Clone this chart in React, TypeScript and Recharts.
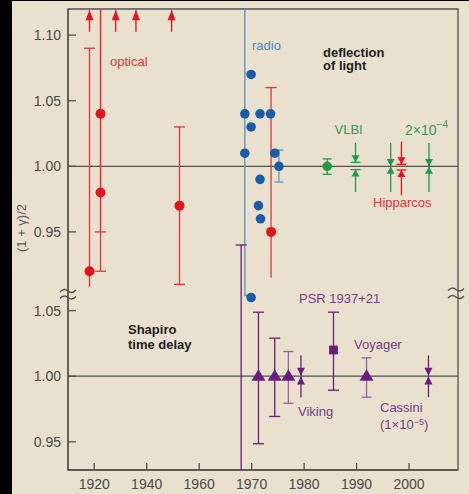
import React from 'react';
import { ComposedChart, Scatter, XAxis, YAxis, ReferenceLine, ReferenceArea } from 'recharts';

// The Shapiro (time delay) panel is drawn below the deflection panel,
// shifted down by this much on one shared y scale.
const OFFSET = 0.16;

// Time axis is compressed by half before 1960.
const toX = (year: number) => (year >= 1960 ? year : 1960 - (1960 - year) / 2);
const fromX = (x: number) => Math.round(x >= 1960 ? x : 1960 - (1960 - x) * 2);

const yearTicks = [1920, 1940, 1960, 1970, 1980, 1990, 2000];
const topTicks = [0.95, 1.0, 1.05, 1.1];
const bottomTicks = [0.95, 1.0, 1.05];

type Bar = { year: number; lo: number; hi: number; capLo?: boolean; capHi?: boolean };
type Point = { year: number; value: number };
type Arrow = { year: number; from: number; to: number };

// ---- deflection of light ----
const opticalPoints: Point[] = [
  { year: 1918.2, value: 0.92 },
  { year: 1922.4, value: 1.04 },
  { year: 1922.4, value: 0.98 },
  { year: 1952.5, value: 0.97 },
  { year: 1973.7, value: 0.95 },
];
const opticalBars: Bar[] = [
  { year: 1918.2, lo: 0.908, hi: 1.09, capHi: true },
  { year: 1922.4, lo: 0.95, hi: 1.2, capLo: true },
  { year: 1922.4, lo: 0.92, hi: 1.2, capLo: true },
  { year: 1952.5, lo: 0.91, hi: 1.03, capLo: true, capHi: true },
  { year: 1973.7, lo: 0.915, hi: 1.06, capHi: true },
];
const opticalArrows: Arrow[] = [
  { year: 1918.2, from: 1.1026, to: 1.119 },
  { year: 1928.2, from: 1.1026, to: 1.119 },
  { year: 1935.9, from: 1.1026, to: 1.119 },
  { year: 1949.5, from: 1.1026, to: 1.119 },
];

const radioPoints: Point[] = [
  { year: 1969.9, value: 1.07 },
  { year: 1968.7, value: 1.04 },
  { year: 1971.6, value: 1.04 },
  { year: 1973.6, value: 1.04 },
  { year: 1969.9, value: 1.03 },
  { year: 1968.7, value: 1.01 },
  { year: 1974.4, value: 1.01 },
  { year: 1975.2, value: 1.0 },
  { year: 1971.6, value: 0.99 },
  { year: 1971.3, value: 0.97 },
  { year: 1971.7, value: 0.96 },
  { year: 1969.9, value: 0.9 },
];
const radioTrace: Point[] = [
  { year: 1968.7, value: 1.2 },
  { year: 1968.7, value: 0.9015 },
  { year: 1969.6, value: 0.9015 },
];
const radioBars: Bar[] = [{ year: 1975.2, lo: 0.988, hi: 1.0124, capLo: true, capHi: true }];

const vlbiPoints: Point[] = [{ year: 1984.4, value: 1.0 }];
const vlbiBars: Bar[] = [{ year: 1984.4, lo: 0.9939, hi: 1.0056, capLo: true, capHi: true }];
const vlbiArrows: Arrow[] = [
  { year: 1989.8, from: 1.0178, to: 1.003 },
  { year: 1989.8, from: 0.9804, to: 0.9975 },
  { year: 1996.5, from: 1.0178, to: 1.0003 },
  { year: 1996.5, from: 0.9804, to: 0.9997 },
  { year: 2003.8, from: 1.0178, to: 1.0003 },
  { year: 2003.8, from: 0.9804, to: 0.9997 },
];
const vlbiCaps: Point[] = [
  { year: 1989.8, value: 1.003 },
  { year: 1989.8, value: 0.9975 },
];
const hipparcosArrows: Arrow[] = [
  { year: 1998.55, from: 1.0188, to: 1.0015 },
  { year: 1998.55, from: 0.978, to: 0.9972 },
];
const hipparcosCaps: Point[] = [
  { year: 1998.55, value: 1.0015 },
  { year: 1998.55, value: 0.9972 },
];

// ---- Shapiro time delay (values as read on the lower axis) ----
const shapiroTriangles: Point[] = [
  { year: 1971.3, value: 1.0 },
  { year: 1974.4, value: 1.0 },
  { year: 1977.0, value: 1.0 },
  { year: 1991.9, value: 1.0 },
];
const shapiroDarkBars: Bar[] = [
  { year: 1968.0, lo: 0.925, hi: 1.1, capHi: true },
  { year: 1971.3, lo: 0.9485, hi: 1.0488, capLo: true, capHi: true },
  { year: 1974.4, lo: 0.9693, hi: 1.029, capLo: true, capHi: true },
  { year: 1985.6, lo: 0.9893, hi: 1.0488, capLo: true, capHi: true },
];
const shapiroLightBars: Bar[] = [
  { year: 1977.0, lo: 0.9794, hi: 1.0188, capLo: true, capHi: true },
  { year: 1991.9, lo: 0.984, hi: 1.014, capLo: true, capHi: true },
];
const pulsarPoints: Point[] = [{ year: 1985.6, value: 1.02 }];
const shapiroArrows: Arrow[] = [
  { year: 1979.4, from: 1.0158, to: 1.0003 },
  { year: 1979.4, from: 0.9838, to: 0.9997 },
  { year: 2003.7, from: 1.0158, to: 1.0003 },
  { year: 2003.7, from: 0.984, to: 0.9997 },
];

const AXIS = '#505050';
const TICK_TEXT = '#4a4a4a';
const FONT = '"Liberation Sans", Arial, sans-serif';
const RED = '#e5131f';
const RED_BAR = '#e2343c';
const BLUE = '#1b5ca8';
const BLUE_LINE = '#6494c8';
const GREEN = '#1f9a4c';
const PURPLE = '#6b1c7c';
const PURPLE_LIGHT = '#9c5fa8';

const capShape = (w: number, color: string) => (p: any) =>
  p.payload && p.payload.cap ? (
    <line x1={p.cx - w / 2} x2={p.cx + w / 2} y1={p.cy} y2={p.cy} stroke={color} strokeWidth={1.3} />
  ) : (
    <g />
  );

const headShape = (w: number, h: number, color: string) => (p: any) => {
  const d = p.payload ? p.payload.head : 0;
  if (!d) return <g />;
  const { cx, cy } = p;
  const back = d > 0 ? cy + h : cy - h;
  return <polygon points={`${cx},${cy} ${cx - w / 2},${back} ${cx + w / 2},${back}`} fill={color} />;
};

const dotShape = (r: number, color: string) => (p: any) => <circle cx={p.cx} cy={p.cy} r={r} fill={color} />;
const triangleShape = (color: string) => (p: any) => (
  <polygon points={`${p.cx},${p.cy - 7} ${p.cx - 7},${p.cy + 4.5} ${p.cx + 7},${p.cy + 4.5}`} fill={color} />
);
const squareShape = (color: string) => (p: any) => (
  <rect x={p.cx - 4.4} y={p.cy - 4.4} width={8.8} height={8.8} fill={color} />
);

const barSeries = (bars: Bar[], color: string, capW: number, key: string, shift = 0) =>
  bars.map((b, i) => (
    <Scatter
      key={key + i}
      data={[
        { x: toX(b.year), y: b.lo - shift, cap: b.capLo },
        { x: toX(b.year), y: b.hi - shift, cap: b.capHi },
      ]}
      dataKey="y"
      line={{ stroke: color, strokeWidth: 1.3 }}
      shape={capShape(capW, color)}
      isAnimationActive={false}
    />
  ));

const arrowSeries = (arrows: Arrow[], color: string, w: number, h: number, key: string, shift = 0) =>
  arrows.map((a, i) => (
    <Scatter
      key={key + i}
      data={[
        { x: toX(a.year), y: a.from - shift, head: 0 },
        { x: toX(a.year), y: a.to - shift, head: a.to > a.from ? 1 : -1 },
      ]}
      dataKey="y"
      line={{ stroke: color, strokeWidth: 1.3 }}
      shape={headShape(w, h, color)}
      isAnimationActive={false}
    />
  ));

const pointData = (pts: Point[], shift = 0) => pts.map((p) => ({ x: toX(p.year), y: p.value - shift, cap: true }));

const XTick = (props: any) => {
  const { x, y, payload } = props;
  return (
    <g>
      <line x1={x} x2={x} y1={y} y2={y - 7} stroke={AXIS} strokeWidth={1.3} />
      <text x={x} y={y + 19} textAnchor="middle" fontSize={14} fill={TICK_TEXT} fontFamily={FONT}>
        {fromX(payload.value)}
      </text>
    </g>
  );
};

const YTick = (props: any) => {
  const { x, y, payload } = props;
  const v = payload.value < 0.92 ? payload.value + OFFSET : payload.value;
  return (
    <g>
      <line x1={x} x2={x + 8} y1={y} y2={y} stroke={AXIS} strokeWidth={1.3} />
      <text x={x - 7} y={y + 5} textAnchor="end" fontSize={14} fill={TICK_TEXT} fontFamily={FONT}>
        {v.toFixed(2)}
      </text>
    </g>
  );
};

const tilde = (x: number, y: number) =>
  `M${x - 8},${y + 1} Q${x - 4},${y - 3.5} ${x},${y} Q${x + 4},${y + 3.5} ${x + 8},${y - 1}`;

export default function App() {
  const yDomain = [0.7685, 1.1199];
  const xDomain = [1935, 2009.33];
  const yTicks = [...bottomTicks.map((v) => v - OFFSET), ...topTicks];
  const xTicks = yearTicks.map(toX);

  return (
    <div style={{ position: 'absolute', left: 0, top: 0, width: 469, height: 494, background: '#000', fontFamily: FONT }}>
      <div style={{ position: 'absolute', left: 12, top: 1, right: 0, bottom: 0, background: '#e9e1cd' }} />
      <div style={{ position: 'absolute', left: 0, top: 0 }}>
        <ComposedChart width={469} height={494} margin={{ top: 9, right: 11, bottom: 0, left: 12 }}>
          <XAxis
            type="number"
            dataKey="x"
            domain={xDomain}
            ticks={xTicks}
            interval={0}
            allowDataOverflow
            height={24}
            tickSize={0}
            tickMargin={0}
            tickLine={false}
            axisLine={{ stroke: AXIS, strokeWidth: 1.3 }}
            tick={XTick}
          />
          <YAxis
            type="number"
            dataKey="y"
            domain={yDomain}
            ticks={yTicks}
            interval={0}
            allowDataOverflow
            width={56}
            tickSize={0}
            tickMargin={0}
            tickLine={false}
            axisLine={{ stroke: AXIS, strokeWidth: 1.3 }}
            tick={YTick}
          />
          <ReferenceArea x1={xDomain[0]} x2={xDomain[1]} y1={yDomain[0]} y2={yDomain[1]} fill="none" stroke={AXIS} strokeWidth={1.3} />
          <ReferenceLine y={1.0} stroke={AXIS} strokeWidth={1.2} />
          <ReferenceLine y={1.0 - OFFSET} stroke={AXIS} strokeWidth={1.2} />

          {/* radio trace and error bars */}
          <Scatter
            data={pointData(radioTrace).map((d) => ({ ...d, cap: false }))}
            dataKey="y"
            line={{ stroke: BLUE_LINE, strokeWidth: 1.4 }}
            shape={capShape(0, BLUE_LINE)}
            isAnimationActive={false}
          />
          {barSeries(radioBars, BLUE_LINE, 9, 'rb')}

          {/* optical */}
          {barSeries(opticalBars, RED_BAR, 11, 'ob')}
          {arrowSeries(opticalArrows, RED, 8, 10, 'oa')}

          {/* VLBI and Hipparcos */}
          {barSeries(vlbiBars, GREEN, 9, 'vb')}
          {arrowSeries(vlbiArrows, GREEN, 8, 7, 'va')}
          <Scatter data={pointData(vlbiCaps)} dataKey="y" shape={capShape(10, GREEN)} isAnimationActive={false} />
          {arrowSeries(hipparcosArrows, RED, 8, 7, 'ha')}
          <Scatter data={pointData(hipparcosCaps)} dataKey="y" shape={capShape(10, RED)} isAnimationActive={false} />

          {/* Shapiro time delay */}
          {barSeries(shapiroDarkBars, PURPLE, 11, 'sd', OFFSET)}
          {barSeries(shapiroLightBars, PURPLE_LIGHT, 10, 'sl', OFFSET)}
          {arrowSeries(shapiroArrows, PURPLE, 8, 8, 'sa', OFFSET)}

          {/* markers */}
          <Scatter data={pointData(radioPoints)} dataKey="y" shape={dotShape(4.8, BLUE)} isAnimationActive={false} />
          <Scatter data={pointData(opticalPoints)} dataKey="y" shape={dotShape(5, RED)} isAnimationActive={false} />
          <Scatter data={pointData(vlbiPoints)} dataKey="y" shape={dotShape(4.8, GREEN)} isAnimationActive={false} />
          <Scatter data={pointData(shapiroTriangles, OFFSET)} dataKey="y" shape={triangleShape(PURPLE)} isAnimationActive={false} />
          <Scatter data={pointData(pulsarPoints, OFFSET)} dataKey="y" shape={squareShape(PURPLE)} isAnimationActive={false} />
        </ComposedChart>
      </div>

      <svg width={469} height={494} style={{ position: 'absolute', left: 0, top: 0, pointerEvents: 'none' }} fontFamily={FONT} fontSize={13}>
        <text x={21} y={228} transform="rotate(-90 21 228)" textAnchor="middle" dominantBaseline="central" fill="#5a5a5a">
          (1 + γ)/2
        </text>
        <path d={tilde(68, 291)} stroke={AXIS} strokeWidth={1.3} fill="none" />
        <path d={tilde(68, 297.5)} stroke={AXIS} strokeWidth={1.3} fill="none" />
        <path d={tilde(456, 289.5)} stroke={AXIS} strokeWidth={1.3} fill="none" />
        <path d={tilde(456, 297)} stroke={AXIS} strokeWidth={1.3} fill="none" />

        <text x={110} y={66} fill="#e3343c">optical</text>
        <text x={252} y={50} fill="#4d86c4">radio</text>
        <text x={323} y={56.5} fill="#1e1e1e" fontWeight="bold">deflection</text>
        <text x={323} y={70} fill="#1e1e1e" fontWeight="bold">of light</text>
        <text x={334.5} y={134} fill="#2d9c55">VLBI</text>
        <text x={405} y={135} fill="#2d9c55" fontSize={14}>
          2×10<tspan dy={-7} fontSize={10}>−4</tspan>
        </text>
        <text x={373} y={206.5} fill="#e3343c">Hipparcos</text>

        <text x={128} y={333.5} fill="#1e1e1e" fontWeight="bold">Shapiro</text>
        <text x={128} y={349} fill="#1e1e1e" fontWeight="bold">time delay</text>
        <text x={299} y={303} fill="#7a3b8a">PSR 1937+21</text>
        <text x={354} y={349} fill="#7a3b8a">Voyager</text>
        <text x={298} y={416} fill="#7a3b8a">Viking</text>
        <text x={380} y={412} fill="#7a3b8a">Cassini</text>
        <text x={380} y={428.5} fill="#7a3b8a">
          (1×10<tspan dy={-4} fontSize={9}>−5</tspan>
          <tspan dy={4}>)</tspan>
        </text>
      </svg>
    </div>
  );
}
